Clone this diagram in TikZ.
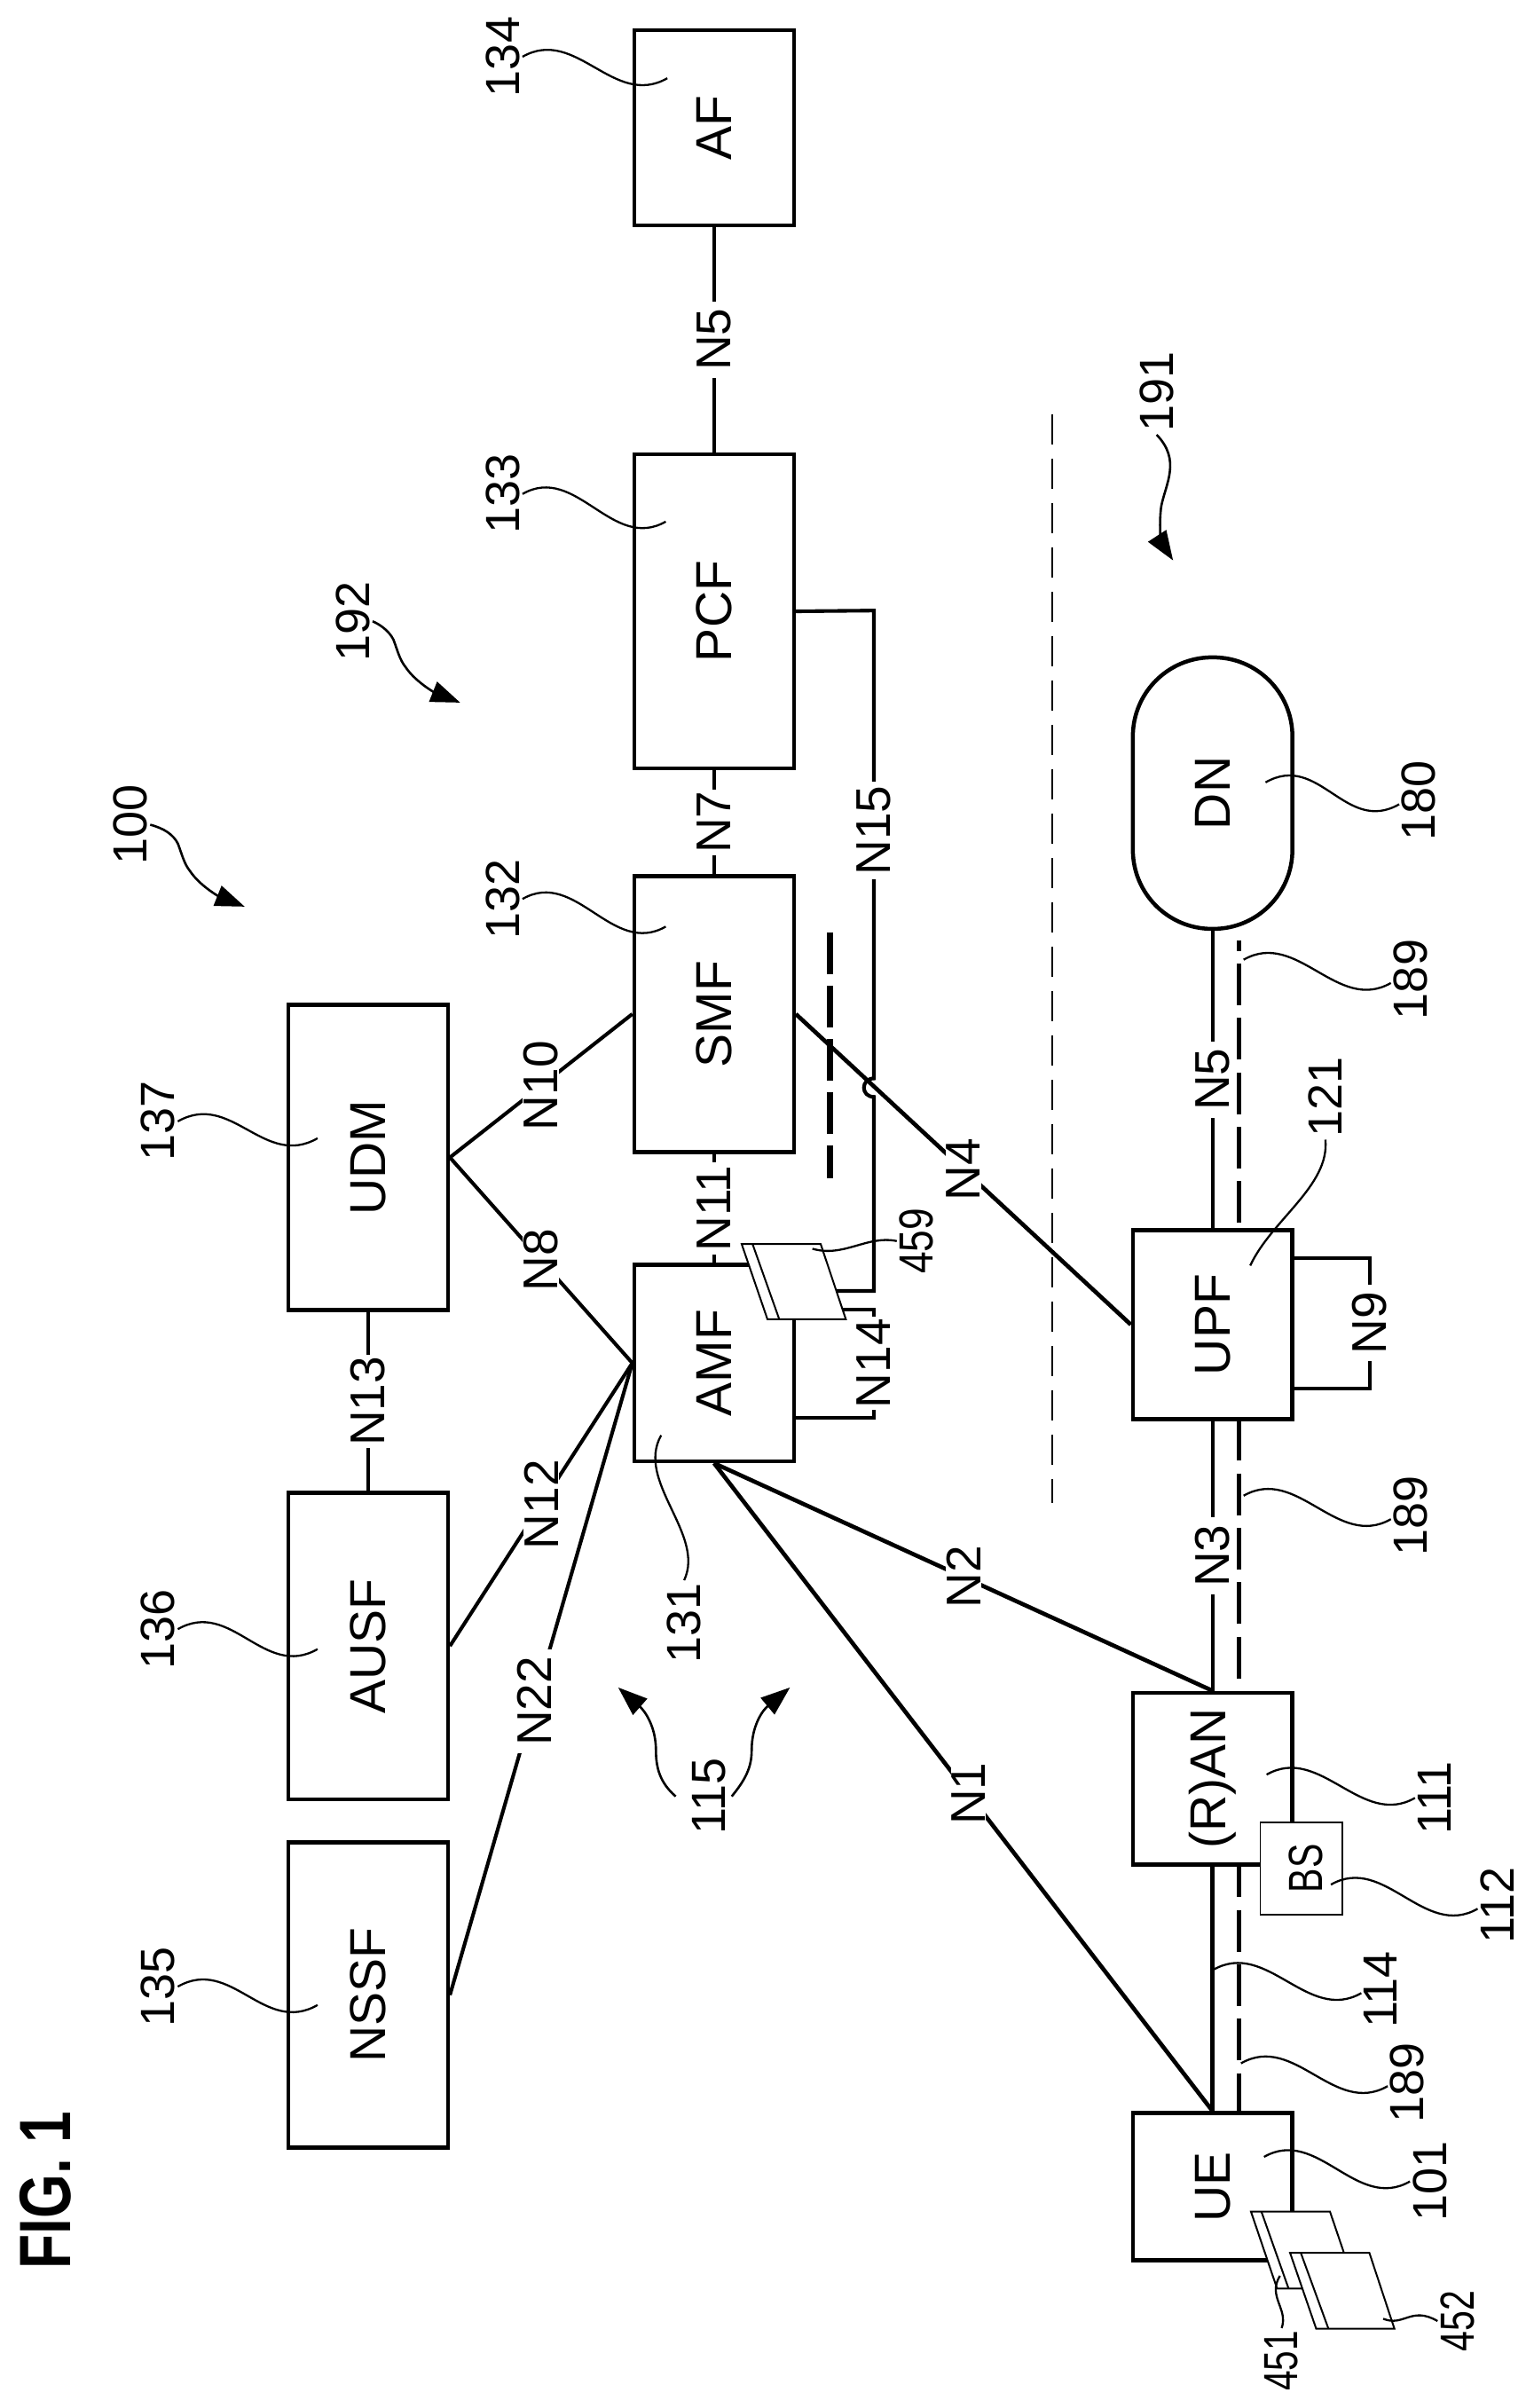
\documentclass[tikz,border=0pt]{standalone}
\usepackage{fontspec}
\setmainfont{Liberation Sans}
\usetikzlibrary{arrows.meta}
\newcommand{\rt}[1]{\rotatebox{90}{#1}}
\newcommand{\nar}[2]{\scalebox{#1}[1]{#2}}
\tikzset{
  x=1.729pt,y=-1.729pt,
  nbox/.style={draw,line width=4.5pt,minimum width=179.8pt,inner sep=0pt,font=\fontsize{57}{57}\selectfont},
  conn/.style={line width=4.1pt},
  heavy/.style={line width=4.7pt},
  elab/.style={fill=white,inner xsep=8pt,inner ysep=1pt,rotate=90,font=\fontsize{55}{55}\selectfont},
  refn/.style={rotate=90,inner sep=3pt,font=\fontsize{54}{54}\selectfont},
  lead/.style={line width=2.3pt},
  curlyarr/.style={line width=2.6pt,-{Triangle[length=33pt,width=24pt]}},
  card/.style={draw,line width=2pt,fill=white},
  cardin/.style={line width=2pt},
  sep189/.style={line width=4.7pt,dash pattern=on 47pt off 14.3pt},
  sep191/.style={line width=2.4pt,dash pattern=on 34pt off 16pt},
  sepcp/.style={line width=7pt,dash pattern=on 47pt off 13pt},
}
\begin{document}
\begin{tikzpicture}
\fill[white] (0,0) rectangle (1000,1569.7);
\useasboundingbox (0,0) rectangle (1000,1569.7);
% boxes
\node[nbox,minimum height=219.6pt] (af) at (465.5,83.3) {\rt{AF}};
\node[nbox,minimum height=354.4pt] (pcf) at (465.5,398.5) {\rt{PCF}};
\node[nbox,minimum height=311.2pt] (smf) at (465.5,661) {\rt{SMF}};
\node[nbox,minimum height=221.3pt] (amf) at (465.5,888.5) {\rt{AMF}};
\node[nbox,minimum height=344.1pt] (udm) at (240,754.5) {\rt{UDM}};
\node[nbox,minimum height=345.8pt] (ausf) at (240,1073) {\rt{AUSF}};
\node[nbox,minimum height=344.1pt] (nssf) at (240,1300.5) {\rt{NSSF}};
\node[nbox,minimum height=306pt,rounded corners=89pt] (dn) at (790.5,517) {\rt{DN}};
\node[nbox,minimum height=212.7pt] (upf) at (790.5,863.5) {\rt{UPF}};
\node[nbox,minimum height=193.7pt] (ran) at (790.5,1159.5) {\rt{(R)AN}};
\node[nbox,minimum height=166pt] (ue) at (790.5,1425.5) {\rt{UE}};
% connectors
\draw[conn] (af.south) -- node[elab]{N5} (pcf.north);
\draw[conn] (pcf.south) -- node[elab,inner xsep=2pt]{N7} (smf.north);
\draw[conn] (smf.south) -- node[elab,inner xsep=4pt]{N11} (amf.north);
\draw[conn] (udm.south) -- node[elab,inner xsep=2pt]{N13} (ausf.north);
\draw[conn] (udm.east) -- node[elab]{N10} (smf.west);
\draw[conn] (udm.east) -- node[elab]{N8} (amf.west);
\draw[conn] (ausf.east) -- node[elab]{N12} (amf.west);
\draw[conn] (nssf.east) -- node[elab,pos=.465]{N22} (amf.west);
\draw[heavy] (amf.south) -- node[elab,pos=.5]{N2} (ran.north);
\draw[heavy] (smf.east) -- node[elab,pos=.5]{N4} (upf.west);
\draw[heavy] (amf.south) -- node[elab,pos=.51]{N1} (ue.north);
% N15 with jump
\coordinate (n15a) at (569.7,398);
\coordinate (j1) at (569.7,703);
\coordinate (j2) at (569.7,715);
\coordinate (n15b) at (569.7,841.5);
\coordinate (n15c) at (530,841.5);
\draw[conn] (pcf.east) -- (n15a) -- node[elab,pos=.47,inner xsep=5pt]{N15} (j1) .. controls (561,703) and (561,715) .. (j2) -- (n15b) -- (n15c);
% N14
\coordinate (n14a) at (545,853.5);
\coordinate (n14b) at (569.7,853.5);
\coordinate (n14c) at (569.7,924);
\coordinate (n14d) at (517,924);
\draw[conn] (n14a) -- (n14b) -- node[elab,pos=.5,inner xsep=2pt]{N14} (n14c) -- (n14d);
% DN-UPF-RAN-UE
\draw[conn] (dn.south) -- node[elab,pos=.5]{N5} (upf.north);
\draw[conn] (upf.south) -- node[elab,pos=.5]{N3} (ran.north);
\draw[heavy] (ran.south) -- (ue.north);
% N9
\coordinate (n9a) at (893,820);
\coordinate (n9b) at (893,905);
\coordinate (upf1) at (842,820);
\coordinate (upf2) at (842,905);
\draw[conn] (upf1) -- (n9a) -- node[elab]{N9} (n9b) -- (upf2);
% separators
\coordinate (s1) at (807.8,613);\coordinate (s2) at (807.8,802);
\coordinate (s3) at (807.8,925);\coordinate (s4) at (807.8,1102);
\coordinate (s5) at (807.8,1216);\coordinate (s6) at (807.8,1377);
\draw[sep189,dash phase=35pt] (s1) -- (s2);
\draw[sep189] (s3) -- (s4);
\draw[sep189,dash phase=11pt] (s5) -- (s6);
\coordinate (d1) at (686,270);\coordinate (d2) at (686,980);
\draw[sep191] (d1) -- (d2);
\coordinate (c1) at (541,608);\coordinate (c2) at (541,768);
\draw[sepcp] (c1) -- (c2);
% BS and cards
\node[draw,line width=1.6pt,fill=white,minimum width=92.3pt,minimum height=103.7pt,inner sep=0pt,font=\fontsize{54}{54}\selectfont] (bs) at (848.3,1218) {\hspace*{10pt}\rt{\nar{.76}{BS}}};
\draw[card] (483.5,811) -- (535,811) -- (551.4,860) -- (500.3,860) -- cycle;
\draw[cardin] (490.6,811) -- (508,860);
\draw[card] (815.5,1441.7) -- (867,1441.7) -- (884,1491.8) -- (832.5,1491.8) -- cycle;
\draw[cardin] (822.3,1441.7) -- (840,1491.8);
\draw[card] (841,1468.6) -- (892.7,1468.6) -- (909,1518) -- (858,1518) -- cycle;
\draw[cardin] (848,1468.6) -- (866,1518);
% reference numbers
\node[refn] (l134) at (327.7,37) {134};
\node[refn] (l133) at (327.7,322) {133};
\node[refn] (l132) at (327.7,586) {132};
\node[refn] (l137) at (103,731) {137};
\node[refn] (l136) at (103,1062) {136};
\node[refn] (l135) at (103,1295) {135};
\node[refn] (l131) at (446,1058) {131};
\node[refn] (l121) at (864,715) {121};
\node[refn] (l180) at (925,522) {180};
\node[refn] (l189a) at (919.6,638.5) {189};
\node[refn] (l189b) at (919.6,988) {189};
\node[refn] (l189c) at (917.5,1357.6) {189};
\node[refn] (l111) at (935,1172) {111};
\node[refn] (l112) at (976,1242) {112};
\node[refn] (l114) at (900,1297) {114};
\node[refn] (l101) at (932,1422) {101};
\node[refn] (l451) at (835.5,1539) {\nar{.75}{451}};
\node[refn] (l452) at (950,1513) {\nar{.76}{452}};
\node[refn] (l459) at (597.5,809) {\nar{.82}{459}};
\node[refn] (l100) at (85,537.6) {100};
\node[refn] (l192) at (230,405) {192};
\node[refn] (l191) at (754,255.5) {191};
\node[refn] (l115) at (462,1171) {115};
\node[rotate=90,inner sep=0pt,font=\fontsize{82}{82}\selectfont\bfseries] (fig) at (29.5,1427.8) {\nar{.78}{FIG. 1}};
% leaders
\coordinate (t134) at (435,51);
\coordinate (t133) at (434,340);
\coordinate (t132) at (434,604);
\coordinate (t137) at (207,742);
\coordinate (t136) at (207,1075);
\coordinate (t135) at (207,1307);
\coordinate (t180) at (825,510);
\coordinate (t189a) at (810.7,625.6);
\coordinate (t189b) at (810.7,975);
\coordinate (t189c) at (809,1345);
\coordinate (t111) at (825.7,1156.8);
\coordinate (t112) at (867.6,1228.5);
\coordinate (t114) at (791,1284);
\coordinate (t101) at (824,1406);
\draw[lead] (l134.south) .. controls +(35,-20) and +(-35,20) .. (t134);
\draw[lead] (l133.south) .. controls +(35,-20) and +(-35,20) .. (t133);
\draw[lead] (l132.south) .. controls +(35,-20) and +(-35,20) .. (t132);
\draw[lead] (l137.south) .. controls +(35,-20) and +(-35,20) .. (t137);
\draw[lead] (l136.south) .. controls +(35,-20) and +(-35,20) .. (t136);
\draw[lead] (l135.south) .. controls +(35,-20) and +(-35,20) .. (t135);
\draw[lead] (l180.100) .. controls +(-35,20) and +(35,-20) .. (t180);
\draw[lead] (l189a.100) .. controls +(-35,20) and +(35,-20) .. (t189a);
\draw[lead] (l189b.100) .. controls +(-35,20) and +(35,-20) .. (t189b);
\draw[lead] (l189c.100) .. controls +(-35,20) and +(35,-20) .. (t189c);
\draw[lead] (l111.north) .. controls +(-35,20) and +(35,-20) .. (t111);
\draw[lead] (l112.100) .. controls +(-35,20) and +(35,-20) .. (t112);
\draw[lead] (l114.100) .. controls +(-35,20) and +(35,-20) .. (t114);
\draw[lead] (l101.north) .. controls +(-35,20) and +(35,-20) .. (t101);
\coordinate (t131) at (431,935.6);
\draw[lead] (l131.east) .. controls +(14,-30) and +(-17,30) .. (t131);
\coordinate (t121) at (815,825);
\draw[lead] (l121.west) .. controls +(3,30) and +(14,-30) .. (t121);
\coordinate (t451) at (834.4,1483.5);
\draw[lead] (l451.east) .. controls (840,1505) and (826,1497) .. (t451);
\coordinate (t452) at (901.7,1511.5);
\draw[lead] (l452.north) .. controls (920,1503) and (915,1517) .. (t452);
\coordinate (t459) at (529.6,814);
\draw[lead] (l459.north) .. controls (565,805) and (550,820) .. (t459);
% curly arrows
\coordinate (a100) at (159.5,591);
\draw[curlyarr] (l100.south) .. controls (107,540) and (113,544) .. (116,550) .. controls (119,558) and (120,563) .. (124,568) .. controls (130,577) and (142,584) .. (a100);
\coordinate (a192) at (300,458);
\draw[curlyarr] (l192.south) .. controls (247.5,407) and (253.5,411) .. (256.5,417) .. controls (259.5,425) and (260.5,430) .. (264.5,435) .. controls (270.5,444) and (282.5,451) .. (a192);
\coordinate (a191) at (764.7,365.3);
\draw[curlyarr] (l191.west) .. controls (770,300) and (760,315) .. (757,330) .. controls (755,345) and (758,355) .. (a191);
\coordinate (a115a) at (403,1100);
\coordinate (a115b) at (515,1100);
\draw[curlyarr] (440.5,1171) .. controls (430,1162) and (427.6,1152) .. (427.6,1141) .. controls (427.6,1125) and (420,1115) .. (a115a);
\draw[curlyarr] (477,1171) .. controls (486,1160) and (490,1152) .. (490,1141) .. controls (490,1125) and (497,1115) .. (a115b);
\end{tikzpicture}
\end{document}
